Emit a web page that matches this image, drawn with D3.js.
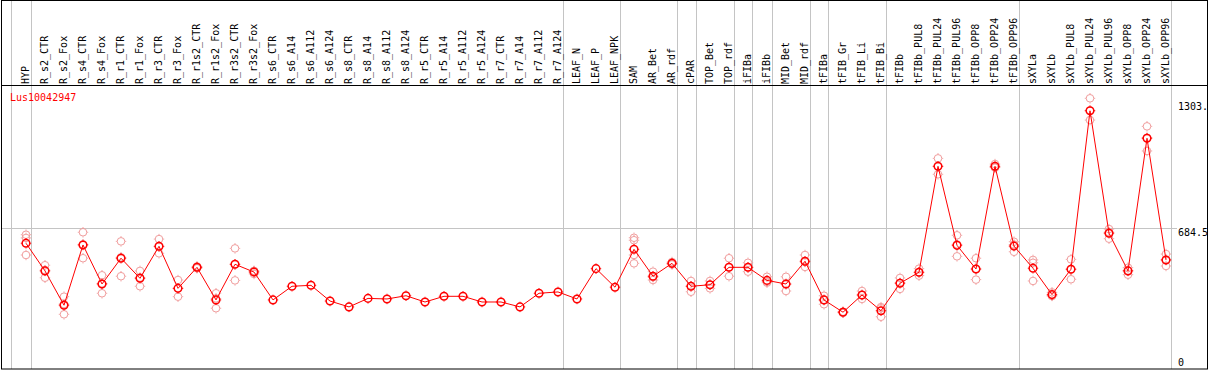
<!DOCTYPE html>
<html>
<head>
<meta charset="utf-8">
<script src="https://cdn.jsdelivr.net/npm/d3@7"></script>
<style>
  html, body { margin: 0; padding: 0; background: #fff; }
  svg { display: block; }
  text { font-family: "DejaVu Sans Mono", monospace; font-size: 10px; }
</style>
</head>
<body>
<svg id="chart" width="1209" height="370"></svg>
<script>
const title = "Lus10042947";

const categories = ["HYP","R_s2_CTR","R_s2_Fox","R_s4_CTR","R_s4_Fox","R_r1_CTR","R_r1_Fox","R_r3_CTR","R_r3_Fox",
  "R_r1s2_CTR","R_r1s2_Fox","R_r3s2_CTR","R_r3s2_Fox","R_s6_CTR","R_s6_A14","R_s6_A112","R_s6_A124",
  "R_s8_CTR","R_s8_A14","R_s8_A112","R_s8_A124","R_r5_CTR","R_r5_A14","R_r5_A112","R_r5_A124",
  "R_r7_CTR","R_r7_A14","R_r7_A112","R_r7_A124","LEAF_N","LEAF_P","LEAF_NPK","SAM","AR_Bet","AR_rdf",
  "cPAR","TOP_Bet","TOP_rdf","iFIBa","iFIBb","MID_Bet","MID_rdf","tFIBa","tFIB_Gr","tFIB_Li","tFIB_Bi",
  "tFIBb","tFIBb_PUL8","tFIBb_PUL24","tFIBb_PUL96","tFIBb_OPP8","tFIBb_OPP24","tFIBb_OPP96",
  "sXYLa","sXYLb","sXYLb_PUL8","sXYLb_PUL24","sXYLb_PUL96","sXYLb_OPP8","sXYLb_OPP24","sXYLb_OPP96"];

const meanValues = [604,458,277,595,389,525,419,588,366,477,305,493,452,305,377,382,299,268,313,310,327,294,
  324,324,294,294,268,340,347,310,470,372,572,430,498,377,385,477,477,408,389,509,305,240,331,248,
  393,451,1010,593,468,1010,589,472,333,467,1303,657,458,1158,516];

const replicates = [
  [649,632,542],[488,462,422],[322,283,229],[662,598,525],[435,392,340],[614,530,430],[458,423,377],
  [626,586,551],[410,366,322],[482,477,472],[340,313,261],[577,493,408],[458,457,442],
  [],[],[],[],[],[],[],[],[],[],[],[],[],[],[],[],[],[],[],
  [633,620,542,498],[454,425,410],[505,498,492],[405,377,348],[405,385,366],[525,477,430],
  [501,476,454],[427,402,396],[427,388,352],[542,505,479],[327,304,282],[243,241,237],[352,331,310],
  [267,261,216],[421,395,363],[470,450,433],[1052,1010,968],[646,598,535],[525,468,412],
  [1022,1005,1003],[612,597,559],[516,501,405],[345,327,326],[519,467,414],[1369,1305,1254],
  [679,662,628],[475,460,438],[1221,1161,1091],[547,516,484]
];

const groupEnds = [-1,0,28,31,34,35,37,38,39,41,42,45,52,60];
const axisTicks = [0, 684.5, 1303];
const axisTickLabels = ["0", "684.5", "1303."];
const gridValues = [684.5];

const W = 1209, H = 370;
const svg = d3.select("#chart");
svg.append("rect").attr("x",0).attr("y",0).attr("width",W).attr("height",H).attr("fill","#fff");

const x = d3.scaleLinear().domain([0, categories.length - 1]).range([26, 1166]);
const y = d3.scaleLinear().domain([0, 1369]).range([357.7, 98.3]);

// group separator lines (full height)
svg.append("g").selectAll("line").data(groupEnds).join("line")
  .attr("x1", d => Math.round(x(d) + 4.5) + 0.5)
  .attr("x2", d => Math.round(x(d) + 4.5) + 0.5)
  .attr("y1", 0).attr("y2", 369)
  .attr("stroke", "#c4c4c4").attr("stroke-width", 1);

// horizontal grid
svg.append("g").selectAll("line").data(gridValues).join("line")
  .attr("x1", 1).attr("x2", 1177)
  .attr("y1", d => Math.round(y(d)) + 0.5).attr("y2", d => Math.round(y(d)) + 0.5)
  .attr("stroke", "#c4c4c4").attr("stroke-width", 1);

// frame
svg.append("rect").attr("x", 1.5).attr("y", 0.5).attr("width", 1206).attr("height", 368.5)
  .attr("fill", "none").attr("stroke", "#000").attr("stroke-width", 1);
svg.append("line").attr("x1", 1).attr("x2", 1207).attr("y1", 85.5).attr("y2", 85.5)
  .attr("stroke", "#000").attr("stroke-width", 1);

// category labels (rotated)
svg.append("g").selectAll("text").data(categories).join("text")
  .attr("transform", (d, i) => `translate(${Math.round(x(i)) + 3},84) rotate(-90)`)
  .attr("text-anchor", "start")
  .attr("fill", "#000")
  .text(d => d);

// title
svg.append("text").attr("x", 10).attr("y", 101).attr("fill", "#ff0000").text(title);

// right axis labels
svg.append("g").selectAll("text").data(axisTicks).join("text")
  .attr("x", 1178)
  .attr("y", (d, i) => i === axisTicks.length - 1 ? y(d) - 0.5 : y(d) + 8)
  .attr("fill", "#000")
  .text((d, i) => axisTickLabels[i]);

// marker helper
function marker(g, cx, cy, color, sw) {
  g.append("circle").attr("cx", cx).attr("cy", cy).attr("r", 3.8)
    .attr("fill", "none").attr("stroke", color).attr("stroke-width", sw);
  const t = [[0,-1],[0,1],[-1,0],[1,0]];
  t.forEach(([dx, dy]) => {
    g.append("line")
      .attr("x1", cx + dx * 4.2).attr("y1", cy + dy * 4.2)
      .attr("x2", cx + dx * 5.2).attr("y2", cy + dy * 5.2)
      .attr("stroke", color).attr("stroke-width", 1);
  });
}

// replicates
const repG = svg.append("g");
replicates.forEach((arr, i) => {
  arr.forEach(v => marker(repG, x(i), y(v), "#f09c9c", 1));
});

// mean line
svg.append("path")
  .datum(meanValues)
  .attr("fill", "none").attr("stroke", "#ff0000").attr("stroke-width", 1)
  .attr("d", d3.line().x((d, i) => x(i)).y(d => y(d)));

// mean markers
const meanG = svg.append("g");
meanValues.forEach((v, i) => marker(meanG, x(i), y(v), "#ff0000", 1.5));
</script>
</body>
</html>
